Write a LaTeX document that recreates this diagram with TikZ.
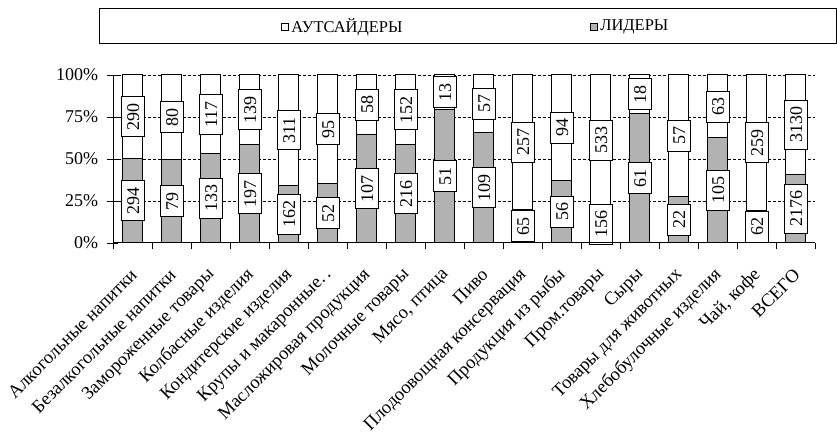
\documentclass[tikz,border=0pt]{standalone}
\usepackage{fontspec}
\setmainfont{Liberation Serif}
\usetikzlibrary{positioning}

\begin{document}
\begin{tikzpicture}
	[x=1pt,y=1pt,
	grid/.style={black,dash pattern=on 3pt off 2pt,line width=0.8pt},
	outsider/.style={draw=black,fill=white,line width=1pt},
	leader/.style={draw=black,fill=black!30,line width=1pt},
	value/.style={draw=black,fill=white,line width=0.9pt,rotate=90,
		font=\fontsize{18}{18}\selectfont,inner xsep=6.5pt,inner ysep=5.5pt,
		text height=12.5pt,text depth=0pt},
	category/.style={rotate=45,anchor=east,inner sep=0pt,
		font=\fontsize{18.5}{18.5}\selectfont},
	percent/.style={anchor=east,inner sep=0pt,font=\fontsize{18}{18}\selectfont},
	legendkey/.style={draw=black,line width=0.8pt,inner sep=0pt,minimum size=7.5pt},
	legendtext/.style={inner sep=0pt,font=\fontsize{16.5}{16.5}\selectfont}]
	\useasboundingbox (0,0) rectangle (837,439);

	%legend
	\draw[line width=1pt] (99,395) rectangle (836,430);
	\node[legendkey,fill=white] (keyout) at (285,412) {};
	\node[legendtext,right=2pt of keyout] (txtout) {АУТСАЙДЕРЫ};
	\node[legendkey,fill=black!30] (keylid) at (594,412) {};
	\node[legendtext,right=2pt of keylid] (txtlid) {ЛИДЕРЫ};

	\begin{scope}[shift={(113.3,196)}]
	%grid and percent scale
	\foreach \p in {25,50,75,100}
		\draw[grid] (0,1.68*\p) -- (702,1.68*\p);
	\foreach \p in {0,25,50,75,100}{
		\node[percent] (p\p) at (-15,1.68*\p) {\p\%};
		\draw[line width=0.8pt] (-6,1.68*\p) -- (5,1.68*\p);
	}

	%bars
	\foreach \lid/\out [count=\i] in {294/290,79/80,133/117,197/139,162/311,
		52/95,107/58,216/152,51/13,109/57,65/257,56/94,156/533,61/18,22/57,
		105/63,62/259,2176/3130}{
		\pgfmathsetmacro\h{\lid/(\lid+\out)*168}
		\pgfmathsetmacro\c{39*\i-19.5}
		\draw[leader] (\c-10,0) rectangle (\c+10,\h);
		\draw[outsider] (\c-10,\h) rectangle (\c+10,168);
		\node[value] (lid\i) at (\c,\h/2) {\lid};
		\node[value] (out\i) at (\c,{(\h+168)/2}) {\out};
	}

	%axes
	\draw[line width=1pt] (0,168) -- (0,0) -- (702,0);
	\foreach \k in {0,...,18}
		\draw[line width=0.8pt] (39*\k,0) -- (39*\k,-6);

	%categories
	\foreach \name [count=\i] in {Алкогольные напитки,Безалкогольные напитки,
		Замороженные товары,Колбасные изделия,Кондитерские изделия,
		Крупы и макаронные.\,.,Масложировая продукция,Молочные товары,
		{Мясо, птица},Пиво,Плодоовощная консервация,Продукция из рыбы,
		Пром.товары,Сыры,Товары для животных,Хлебобулочные изделия,
		{Чай, кофе},ВСЕГО}
		\node[category] (cat\i) at (39*\i-18.5,-29) {\name};
	\end{scope}
\end{tikzpicture}
\end{document}
